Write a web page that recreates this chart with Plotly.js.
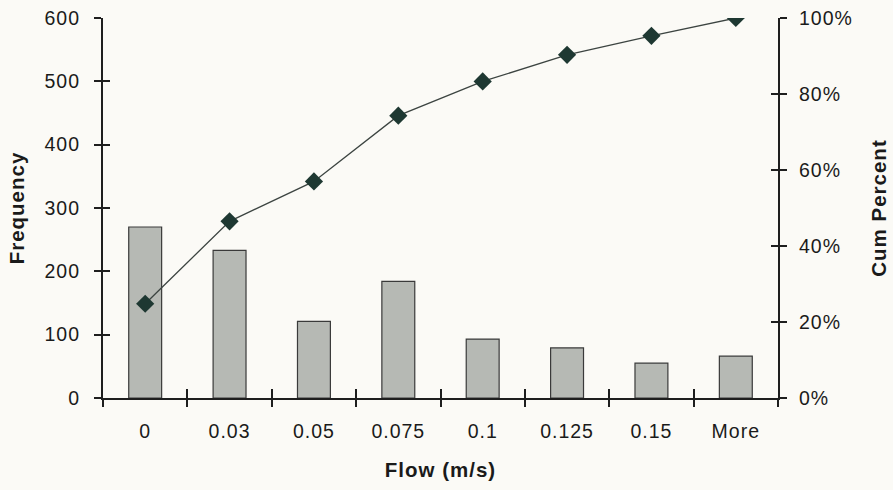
<!DOCTYPE html>
<html>
<head>
<meta charset="utf-8">
<script src="https://cdn.plot.ly/plotly-3.0.1.min.js"></script>
<style>
  html, body { margin: 0; padding: 0; background: #fbfaf6; }
  #chart { width: 893px; height: 490px; }
  #chart text { letter-spacing: 1px; }
</style>
</head>
<body>
<div id="chart"></div>
<script>
// Flow-speed histogram with cumulative percentage (Pareto style)
const flowBins = ['0', '0.03', '0.05', '0.075', '0.1', '0.125', '0.15', 'More'];
const frequency = [270, 233, 121, 184, 93, 79, 55, 66];
const cumPercent = [0.248, 0.465, 0.570, 0.743, 0.833, 0.903, 0.953, 1.000];

const ink = '#1e1e1e';
const tickFont = { family: 'Liberation Sans, Arial, sans-serif', size: 19.5, color: '#1a1a1a' };
const titleFont = { family: 'Liberation Sans, Arial, sans-serif', size: 20.5, color: '#1a1a1a', weight: 'bold' };

const bars = {
  type: 'bar',
  x: flowBins,
  y: frequency,
  xaxis: 'x',
  yaxis: 'y',
  marker: { color: '#b6b9b4', line: { color: '#3a3a3a', width: 1.2 } },
  hoverinfo: 'x+y'
};

const cumLine = {
  type: 'scatter',
  mode: 'lines+markers',
  x: flowBins,
  y: cumPercent,
  xaxis: 'x',
  yaxis: 'y2',
  line: { color: '#3c4441', width: 1.3 },
  marker: { symbol: 'diamond', size: 14, color: '#1e3832', line: { width: 0 } },
  hoverinfo: 'x+y'
};

// empty traces so the tick-overlay axes are drawn
const xTickHelper = { type: 'scatter', x: [], y: [], xaxis: 'x2', yaxis: 'y3', hoverinfo: 'skip', showlegend: false };
const yRightHelper = { type: 'scatter', x: [], y: [], xaxis: 'x2', yaxis: 'y4', hoverinfo: 'skip', showlegend: false };

const layout = {
  width: 893,
  height: 490,
  margin: { l: 103, r: 115, t: 18, b: 92 },
  paper_bgcolor: '#fbfaf6',
  plot_bgcolor: 'rgba(0,0,0,0)',
  showlegend: false,
  bargap: 0.61,
  xaxis: {
    type: 'category',
    categoryorder: 'array',
    categoryarray: flowBins,
    range: [-0.5, 7.5],
    tickson: 'boundaries',
    ticks: 'outside',
    ticklen: 7,
    tickwidth: 2,
    tickcolor: ink,
    showline: true,
    linecolor: ink,
    linewidth: 2.2,
    showgrid: false,
    zeroline: false,
    tickfont: tickFont,
    ticklabelstandoff: 14,
    title: { text: 'Flow (m/s)', font: titleFont, standoff: 22 }
  },
  xaxis2: {
    overlaying: 'x',
    range: [-0.5, 7.5],
    tick0: -0.5,
    dtick: 1,
    ticks: 'inside',
    ticklen: 9,
    tickwidth: 2,
    tickcolor: ink,
    showticklabels: false,
    showgrid: false,
    zeroline: false,
    showline: false
  },
  yaxis: {
    range: [0, 600],
    dtick: 100,
    ticks: 'outside',
    ticklen: 7,
    tickwidth: 2,
    tickcolor: ink,
    showline: true,
    linecolor: ink,
    linewidth: 2.2,
    showgrid: false,
    zeroline: false,
    tickfont: tickFont,
    ticklabelstandoff: 10,
    title: { text: 'Frequency', font: titleFont, standoff: 17 }
  },
  yaxis2: {
    overlaying: 'y',
    side: 'right',
    range: [0, 1],
    dtick: 0.2,
    tickformat: '.0%',
    ticks: 'outside',
    ticklen: 7,
    tickwidth: 2,
    tickcolor: ink,
    showline: true,
    linecolor: ink,
    linewidth: 2.2,
    showgrid: false,
    zeroline: false,
    tickfont: tickFont,
    ticklabelstandoff: 8,
    title: { text: 'Cum Percent', font: titleFont, standoff: 24 }
  },
  yaxis3: {
    overlaying: 'y',
    anchor: 'x2',
    range: [0, 600],
    dtick: 100,
    ticks: 'inside',
    ticklen: 7,
    tickwidth: 2,
    tickcolor: ink,
    showticklabels: false,
    showgrid: false,
    zeroline: false,
    showline: false
  },
  yaxis4: {
    overlaying: 'y',
    side: 'right',
    anchor: 'x2',
    range: [0, 1],
    dtick: 0.2,
    ticks: 'inside',
    ticklen: 7,
    tickwidth: 2,
    tickcolor: ink,
    showticklabels: false,
    showgrid: false,
    zeroline: false,
    showline: false
  }
};

Plotly.newPlot('chart', [bars, cumLine, xTickHelper, yRightHelper], layout, { displayModeBar: false });
</script>
</body>
</html>
